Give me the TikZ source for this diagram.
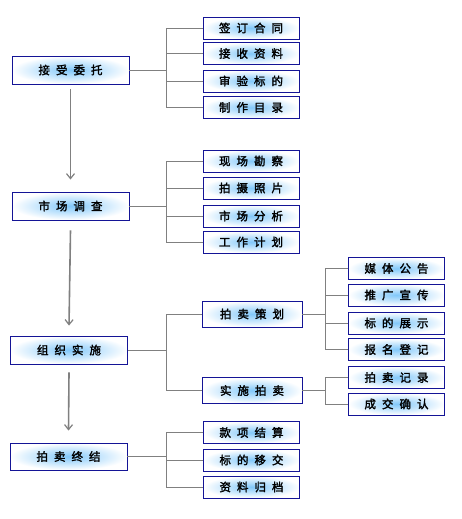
\documentclass[tikz,border=0pt]{standalone}
\usepackage{fontspec}
\newfontfamily\cjk{Noto Sans CJK SC}[FakeBold=2]
\usetikzlibrary{arrows.meta}
\definecolor{boxblue}{RGB}{20,20,150}
\definecolor{glow}{RGB}{130,200,250}
\definecolor{linegray}{RGB}{128,128,128}
\newcommand{\spc}[4]{#1\hspace{6pt}#2\hspace{6pt}#3\hspace{6pt}#4}
\tikzset{
  basebox/.style={rectangle, draw=boxblue, line width=0.9pt, inner color=glow, outer color=white,
    font=\cjk\fontsize{11.5}{12}\selectfont, inner sep=0pt},
  mainbox/.style={basebox, minimum width=117pt, minimum height=28pt},
  midbox/.style={basebox, minimum width=100pt, minimum height=26pt},
  childbox/.style={basebox, minimum width=96pt, minimum height=22pt},
  conn/.style={draw=linegray, line width=0.8pt},
  flow/.style={draw=linegray, line width=1.6pt, -{Straight Barb[length=5pt,width=8pt,line width=1.2pt]}}
}
\begin{document}
\begin{tikzpicture}[x=1pt,y=-1pt]
\useasboundingbox[fill=white] (0,0) rectangle (462,519);
% main boxes
\node[mainbox] (m1) at (70.5,70) {\spc 接受委托};
\node[mainbox] (m2) at (70.5,206) {\spc 市场调查};
\node[mainbox] (m3) at (69,350) {\spc 组织实施};
\node[mainbox, minimum height=27pt] (m4) at (68.5,456.5) {\spc 拍卖终结};
% group 1
\node[childbox] (a1) at (251,28) {\spc 签订合同};
\node[childbox] (a2) at (251,53.5) {\spc 接收资料};
\node[childbox] (a3) at (251,81) {\spc 审验标的};
\node[childbox] (a4) at (251,107.5) {\spc 制作目录};
% group 2
\node[childbox] (b1) at (251,161) {\spc 现场勘察};
\node[childbox] (b2) at (251,188) {\spc 拍摄照片};
\node[childbox] (b3) at (251,216) {\spc 市场分析};
\node[childbox] (b4) at (251,242) {\spc 工作计划};
% group 3
\node[midbox] (p1) at (252,314) {\spc 拍卖策划};
\node[midbox] (p2) at (252,390.5) {\spc 实施拍卖};
\node[childbox] (c1) at (396.5,268.5) {\spc 媒体公告};
\node[childbox] (c2) at (396.5,295) {\spc 推广宣传};
\node[childbox] (c3) at (396.5,323) {\spc 标的展示};
\node[childbox] (c4) at (396.5,349.5) {\spc 报名登记};
\node[childbox] (c5) at (396.5,377.5) {\spc 拍卖记录};
\node[childbox] (c6) at (396.5,404) {\spc 成交确认};
% group 4
\node[childbox] (d1) at (251.5,432.5) {\spc 款项结算};
\node[childbox] (d2) at (251.5,460) {\spc 标的移交};
\node[childbox] (d3) at (251.5,487) {\spc 资料归档};
% bus coordinates
\coordinate (bx) at (166,0);
\coordinate (cx) at (325,0);
% group 1 connectors
\draw[conn] (m1.east) -- (m1.east -| bx);
\draw[conn] (a1.west) -- (a1.west -| bx) -- (a4.west -| bx) -- (a4.west);
\draw[conn] (a2.west) -- (a2.west -| bx);
\draw[conn] (a3.west) -- (a3.west -| bx);
% group 2 connectors
\draw[conn] (m2.east) -- (m2.east -| bx);
\draw[conn] (b1.west) -- (b1.west -| bx) -- (b4.west -| bx) -- (b4.west);
\draw[conn] (b2.west) -- (b2.west -| bx);
\draw[conn] (b3.west) -- (b3.west -| bx);
% group 3 connectors
\draw[conn] (m3.east) -- (m3.east -| bx);
\draw[conn] (p1.west) -- (p1.west -| bx) -- (p2.west -| bx) -- (p2.west);
\draw[conn] (p1.east) -- (p1.east -| cx);
\draw[conn] (c1.west) -- (c1.west -| cx) -- (c4.west -| cx) -- (c4.west);
\draw[conn] (c2.west) -- (c2.west -| cx);
\draw[conn] (c3.west) -- (c3.west -| cx);
\draw[conn] (p2.east) -- (p2.east -| cx);
\draw[conn] (c5.west) -- (c5.west -| cx) -- (c6.west -| cx) -- (c6.west);
% group 4 connectors
\draw[conn] (m4.east) -- (m4.east -| bx);
\draw[conn] (d1.west) -- (d1.west -| bx) -- (d3.west -| bx) -- (d3.west);
\draw[conn] (d2.west) -- (d2.west -| bx);
% flow arrows
\draw[flow] ([yshift=-5pt]m1.south) -- ([yshift=12pt]m2.north);
\draw[flow] ([yshift=-10pt]m2.south) -- ([yshift=10pt]m3.north);
\draw[flow] ([yshift=-8pt]m3.south) -- ([yshift=12pt]m4.north);
\end{tikzpicture}
\end{document}
